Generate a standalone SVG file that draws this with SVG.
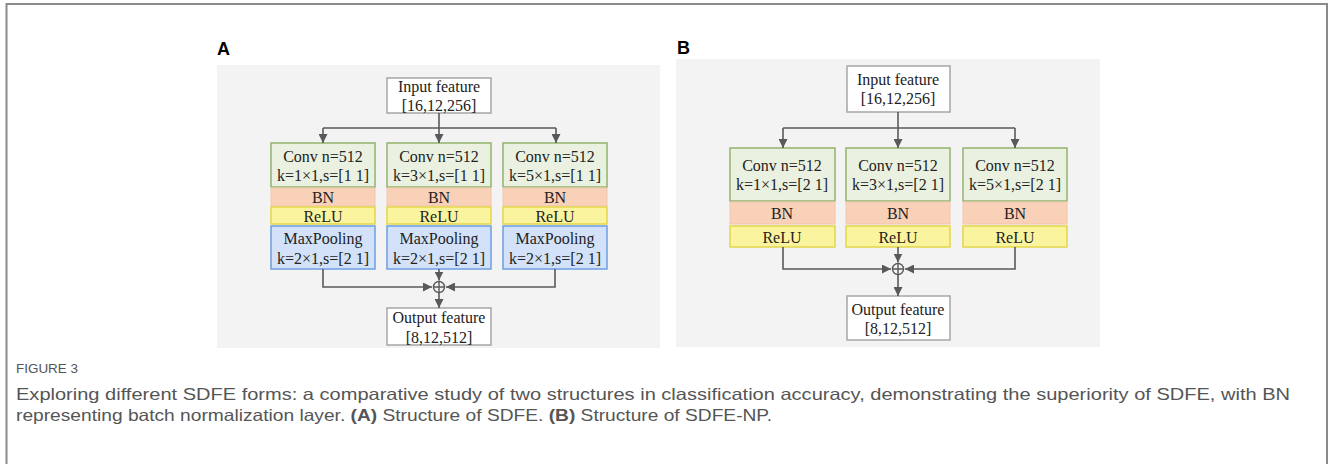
<svg xmlns="http://www.w3.org/2000/svg" width="1330" height="464" viewBox="0 0 1330 464">
<defs>
<marker id="ah" viewBox="0 0 10 10" refX="10" refY="5" markerWidth="9" markerHeight="9" markerUnits="userSpaceOnUse" orient="auto">
<path d="M0,0 L10,5 L0,10 z" fill="#595959"/>
</marker>
<style>
.t{font-family:"Liberation Serif","Times New Roman",serif;font-size:16px;fill:#222;text-anchor:middle;dominant-baseline:central}
.io{fill:#fff;stroke:#a6a6a6;stroke-width:1.5}
.conv{fill:#ebf1e0;stroke:#93b46e;stroke-width:1.5}
.bn{fill:#f9d0b8;stroke:#f4c7ab;stroke-width:1}
.relu{fill:#fbf49e;stroke:#e3d64a;stroke-width:1.5}
.mp{fill:#d3e2f8;stroke:#6e9fe3;stroke-width:1.5}
.bg{fill:#f3f3f3}
.ln{fill:none;stroke:#595959;stroke-width:1.6}
.lbl{font-family:"Liberation Sans",Arial,sans-serif;font-weight:bold;font-size:18px;fill:#000}
.cap{font-family:"Liberation Sans",Arial,sans-serif;fill:#555}
</style>
</defs>
<rect width="1330" height="464" fill="#fff"/>
<path d="M6.5,464 V4 H1327 V464" fill="none" stroke="#8a8a8a" stroke-width="2"/>

<text class="lbl" x="217" y="55">A</text>
<text class="lbl" x="677" y="54">B</text>
<rect class="bg" x="217" y="65" width="443" height="283"/>
<rect class="bg" x="676" y="59" width="424" height="288"/>

<!-- Panel A -->
<g id="a-input"><rect class="io" x="387" y="78" width="104" height="35"/><text class="t" x="439" y="86">Input feature</text><text class="t" x="439" y="105">[16,12,256]</text></g>
<g id="a-col1">
<rect class="conv" x="271" y="143" width="104" height="44"/><text class="t" x="323" y="156">Conv n=512</text><text class="t" x="323" y="175">k=1×1,s=[1 1]</text>
<rect class="bn" x="271" y="188" width="104" height="18"/><text class="t" x="323" y="197">BN</text>
<rect class="relu" x="271" y="207" width="104" height="17"/><text class="t" x="323" y="216">ReLU</text>
<rect class="mp" x="271" y="226" width="104" height="43"/><text class="t" x="323" y="238">MaxPooling</text><text class="t" x="323" y="258">k=2×1,s=[2 1]</text>
</g>
<g id="a-col2">
<rect class="conv" x="387" y="143" width="104" height="44"/><text class="t" x="439" y="156">Conv n=512</text><text class="t" x="439" y="175">k=3×1,s=[1 1]</text>
<rect class="bn" x="387" y="188" width="104" height="18"/><text class="t" x="439" y="197">BN</text>
<rect class="relu" x="387" y="207" width="104" height="17"/><text class="t" x="439" y="216">ReLU</text>
<rect class="mp" x="387" y="226" width="104" height="43"/><text class="t" x="439" y="238">MaxPooling</text><text class="t" x="439" y="258">k=2×1,s=[2 1]</text>
</g>
<g id="a-col3">
<rect class="conv" x="503" y="143" width="104" height="44"/><text class="t" x="555" y="156">Conv n=512</text><text class="t" x="555" y="175">k=5×1,s=[1 1]</text>
<rect class="bn" x="503" y="188" width="104" height="18"/><text class="t" x="555" y="197">BN</text>
<rect class="relu" x="503" y="207" width="104" height="17"/><text class="t" x="555" y="216">ReLU</text>
<rect class="mp" x="503" y="226" width="104" height="43"/><text class="t" x="555" y="238">MaxPooling</text><text class="t" x="555" y="258">k=2×1,s=[2 1]</text>
</g>
<g id="a-sum"><circle cx="439" cy="287" r="5.5" fill="none" stroke="#595959" stroke-width="1.4"/><path d="M433.5,287 H444.5 M439,281.5 V292.5" stroke="#595959" stroke-width="1.4"/></g>
<g id="a-output"><rect class="io" x="387" y="308" width="104" height="37"/><text class="t" x="439" y="317">Output feature</text><text class="t" x="439" y="337">[8,12,512]</text></g>

<!-- Panel B -->
<g id="b-input"><rect class="io" x="847" y="66" width="103" height="46"/><text class="t" x="898" y="79">Input feature</text><text class="t" x="898" y="98">[16,12,256]</text></g>
<g id="b-col1">
<rect class="conv" x="730" y="148" width="105" height="53"/><text class="t" x="782" y="165">Conv n=512</text><text class="t" x="782" y="184">k=1×1,s=[2 1]</text>
<rect class="bn" x="730" y="202" width="105" height="22"/><text class="t" x="782" y="213">BN</text>
<rect class="relu" x="730" y="226" width="105" height="21"/><text class="t" x="782" y="237">ReLU</text>
</g>
<g id="b-col2">
<rect class="conv" x="846" y="148" width="104" height="53"/><text class="t" x="898" y="165">Conv n=512</text><text class="t" x="898" y="184">k=3×1,s=[2 1]</text>
<rect class="bn" x="846" y="202" width="104" height="22"/><text class="t" x="898" y="213">BN</text>
<rect class="relu" x="846" y="226" width="104" height="21"/><text class="t" x="898" y="237">ReLU</text>
</g>
<g id="b-col3">
<rect class="conv" x="963" y="148" width="104" height="53"/><text class="t" x="1015" y="165">Conv n=512</text><text class="t" x="1015" y="184">k=5×1,s=[2 1]</text>
<rect class="bn" x="963" y="202" width="104" height="22"/><text class="t" x="1015" y="213">BN</text>
<rect class="relu" x="963" y="226" width="104" height="21"/><text class="t" x="1015" y="237">ReLU</text>
</g>
<g id="b-sum"><circle cx="898" cy="269" r="5.5" fill="none" stroke="#595959" stroke-width="1.4"/><path d="M892.5,269 H903.5 M898,263.5 V274.5" stroke="#595959" stroke-width="1.4"/></g>
<g id="b-output"><rect class="io" x="847" y="296" width="103" height="44"/><text class="t" x="898" y="309">Output feature</text><text class="t" x="898" y="328">[8,12,512]</text></g>

<g id="connectors">
<path class="ln" d="M439,113 V128"/>
<path class="ln" d="M323,128 H556"/>
<path class="ln" d="M323,128 V143" marker-end="url(#ah)"/>
<path class="ln" d="M439,128 V143" marker-end="url(#ah)"/>
<path class="ln" d="M556,128 V143" marker-end="url(#ah)"/>
<path class="ln" d="M323,269 V287 H432" marker-end="url(#ah)"/>
<path class="ln" d="M555,269 V287 H446" marker-end="url(#ah)"/>
<path class="ln" d="M439,269 V280.5" marker-end="url(#ah)"/>
<path class="ln" d="M439,293 V308" marker-end="url(#ah)"/>

<path class="ln" d="M898,112 V128"/>
<path class="ln" d="M783,128 H1015"/>
<path class="ln" d="M783,128 V148" marker-end="url(#ah)"/>
<path class="ln" d="M898,128 V148" marker-end="url(#ah)"/>
<path class="ln" d="M1015,128 V148" marker-end="url(#ah)"/>
<path class="ln" d="M783,247 V269 H891" marker-end="url(#ah)"/>
<path class="ln" d="M1015,247 V269 H905" marker-end="url(#ah)"/>
<path class="ln" d="M898,247 V262.5" marker-end="url(#ah)"/>
<path class="ln" d="M898,275 V296" marker-end="url(#ah)"/>
</g>

<text class="cap" x="16" y="373" font-size="13" textLength="62" lengthAdjust="spacingAndGlyphs">FIGURE 3</text>
<text class="cap" x="16" y="400" font-size="16.5" textLength="1274" lengthAdjust="spacingAndGlyphs">Exploring different SDFE forms: a comparative study of two structures in classification accuracy, demonstrating the superiority of SDFE, with BN</text>
<text class="cap" x="16" y="421" font-size="16.5" textLength="756" lengthAdjust="spacingAndGlyphs">representing batch normalization layer. <tspan font-weight="bold">(A)</tspan> Structure of SDFE. <tspan font-weight="bold">(B)</tspan> Structure of SDFE-NP.</text>
</svg>
